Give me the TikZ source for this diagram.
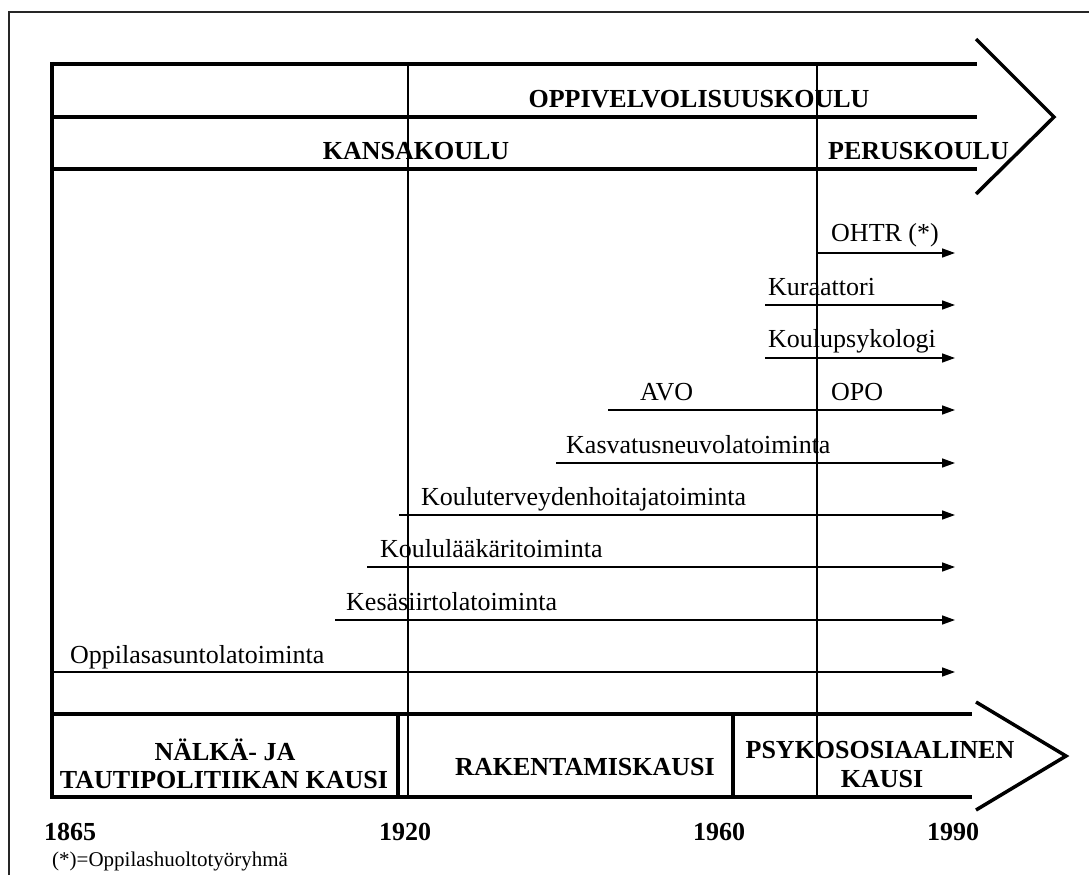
\documentclass[tikz,border=0pt]{standalone}
\usepackage{fontspec}
\setmainfont{Liberation Serif}
\usetikzlibrary{arrows.meta}
\begin{document}
\begin{tikzpicture}[x=1pt,y=-1pt,
  outerframe/.style={line width=1.3pt, black!85},
  bandline/.style={line width=4.5pt, line cap=rect},
  divider/.style={line width=3.5pt},
  thinv/.style={line width=1.1pt},
  chevron/.style={line width=3.5pt, line join=miter},
  tl/.style={line width=1.6pt, -{Triangle[length=13pt,width=9pt]}},
  lab/.style={anchor=base west, inner sep=0pt, font=\fontsize{26}{30}\selectfont},
  head/.style={anchor=base, inner sep=0pt, font=\fontsize{26}{30}\selectfont\bfseries},
  yr/.style={anchor=base, inner sep=0pt, font=\fontsize{26}{30}\selectfont\bfseries},
  note/.style={anchor=base west, inner sep=0pt, font=\fontsize{21}{25}\selectfont}]
\useasboundingbox (0,0) rectangle (1089,875);

% outer frame
\draw[outerframe] (9,875) -- (9,12) -- (1089,12);

% thin vertical guide lines
\draw[thinv] (408,64) -- (408,797);
\draw[thinv] (817,64) -- (817,797);

% top bands
\draw[bandline] (52,64) -- (975,64);
\draw[bandline] (52,117) -- (975,117);
\draw[bandline] (52,169) -- (975,169);
\draw[chevron] (976,39) -- (1054,117) -- (976,194);

% left border
\draw[line width=4pt] (52,62) -- (52,799);

% bottom band
\draw[bandline] (52,714) -- (970,714);
\draw[bandline] (52,797) -- (970,797);
\draw[divider] (398,714) -- (398,797);
\draw[divider] (733,714) -- (733,797);
\draw[chevron] (976,702) -- (1066,756) -- (976,810);

% headings
\node[head] (oppi) at (699,107) {OPPIVELVOLISUUSKOULU};
\node[head] (kansa) at (416,159) {KANSAKOULU};
\node[head, anchor=base west] (perus) at (828,159) {PERUSKOULU};

% timeline arrows
\coordinate (s1) at (817,253); \coordinate (e1) at (955,253);
\coordinate (s2) at (765,305); \coordinate (e2) at (955,305);
\coordinate (s3) at (765,358); \coordinate (e3) at (955,358);
\coordinate (s4) at (608,410); \coordinate (e4) at (955,410);
\coordinate (s5) at (556,463); \coordinate (e5) at (955,463);
\coordinate (s6) at (399,515); \coordinate (e6) at (955,515);
\coordinate (s7) at (367,567); \coordinate (e7) at (955,567);
\coordinate (s8) at (335,620); \coordinate (e8) at (955,620);
\coordinate (s9) at (52,672);  \coordinate (e9) at (955,672);
\foreach \i in {1,...,9} \draw[tl] (s\i) -- (e\i);

\node[lab] (ohtr) at (831,241) {OHTR (*)};
\node[lab] (kur) at (768,295) {Kuraattori};
\node[lab] (kps) at (768,347) {Koulupsykologi};
\node[lab] (avo) at (640,400) {AVO};
\node[lab] (opo) at (831,400) {OPO};
\node[lab] (kas) at (566,453) {Kasvatusneuvolatoiminta};
\node[lab] (kth) at (421,505) {Kouluterveydenhoitajatoiminta};
\node[lab] (kla) at (380,557) {Koululääkäritoiminta};
\node[lab] (kes) at (346,610) {Kesäsiirtolatoiminta};
\node[lab] (opp) at (70,663) {Oppilasasuntolatoiminta};

% periods
\node[head] (p1a) at (225,760) {NÄLKÄ- JA};
\node[head] (p1b) at (224,788) {TAUTIPOLITIIKAN KAUSI};
\node[head] (p2) at (585,775) {RAKENTAMISKAUSI};
\node[head] (p3a) at (880,758) {PSYKOSOSIAALINEN};
\node[head] (p3b) at (882,787) {KAUSI};

% years
\node[yr] (y1) at (70,840) {1865};
\node[yr] (y2) at (405,840) {1920};
\node[yr] (y3) at (719,840) {1960};
\node[yr] (y4) at (953,840) {1990};

\node[note] (fn) at (52,866) {(*)=Oppilashuoltotyöryhmä};
\end{tikzpicture}
\end{document}
